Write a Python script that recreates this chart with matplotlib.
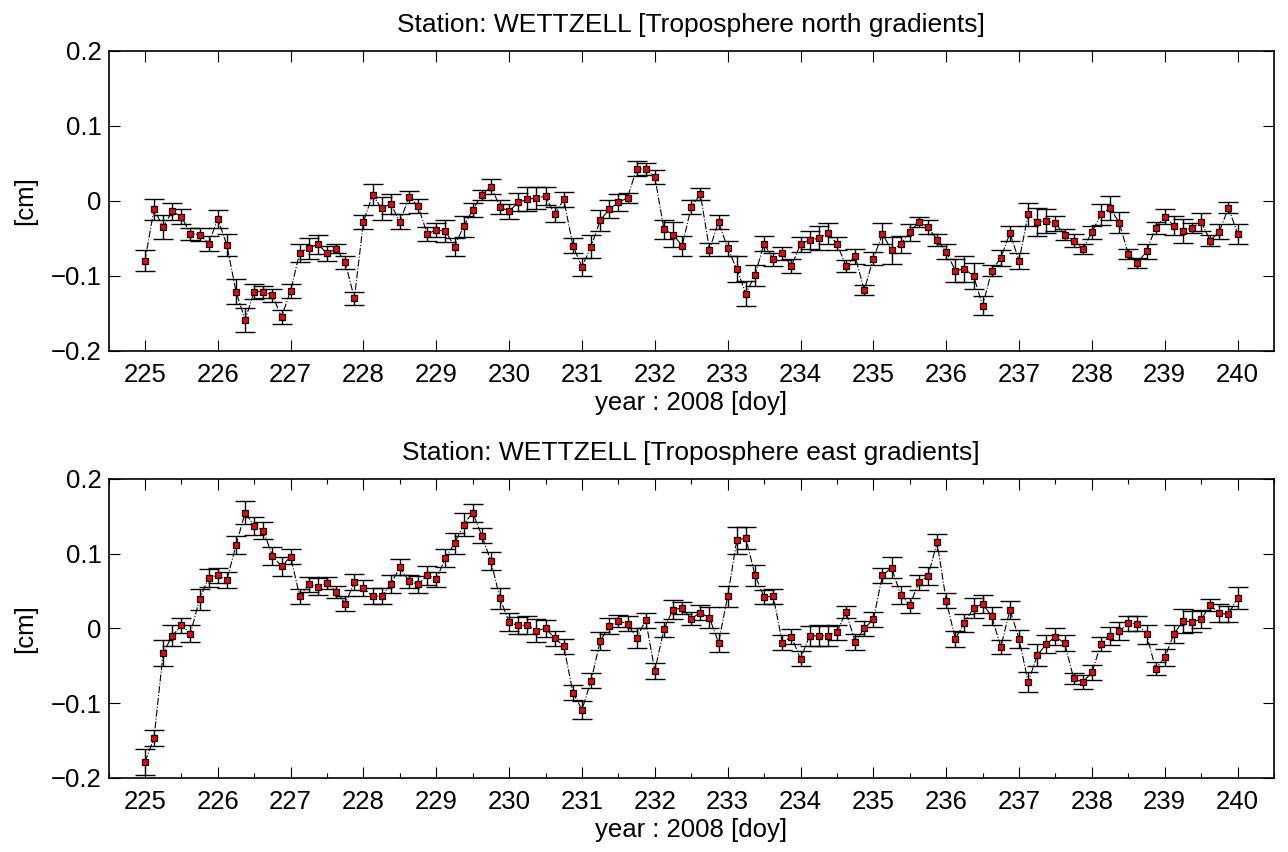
import numpy as np
import matplotlib
matplotlib.use("Agg")
import matplotlib.pyplot as plt
from matplotlib.ticker import FixedLocator, FixedFormatter, MultipleLocator

plt.rcParams['font.family'] = ['Liberation Sans', 'DejaVu Sans']
plt.rcParams['font.size'] = 18.5

# ---------------- data ----------------
doy_start = 225
doy_end = 240
samples_per_day = 8

north = [
    -0.080, -0.011, -0.035, -0.014, -0.021, -0.044, -0.045, -0.057,
    -0.024, -0.059, -0.121, -0.159, -0.121, -0.121, -0.126, -0.155,
    -0.120, -0.069, -0.063, -0.058, -0.070, -0.064, -0.082, -0.130,
    -0.028, 0.008, -0.010, -0.004, -0.028, 0.005, -0.007, -0.044,
    -0.039, -0.040, -0.061, -0.034, -0.012, 0.008, 0.019, -0.008,
    -0.014, -0.002, 0.002, 0.004, 0.006, -0.018, 0.002, -0.060,
    -0.088, -0.061, -0.026, -0.011, -0.002, 0.004, 0.043, 0.042,
    0.032, -0.038, -0.045, -0.060, -0.008, 0.009, -0.065, -0.028,
    -0.063, -0.091, -0.124, -0.099, -0.057, -0.078, -0.070, -0.087,
    -0.058, -0.052, -0.050, -0.043, -0.057, -0.087, -0.074, -0.119,
    -0.077, -0.044, -0.066, -0.058, -0.042, -0.028, -0.035, -0.052,
    -0.068, -0.093, -0.091, -0.100, -0.140, -0.093, -0.076, -0.043,
    -0.080, -0.018, -0.028, -0.027, -0.030, -0.045, -0.053, -0.064,
    -0.042, -0.018, -0.010, -0.029, -0.071, -0.083, -0.067, -0.036,
    -0.021, -0.033, -0.040, -0.036, -0.028, -0.053, -0.041, -0.009,
    -0.044,
]
north_err = [
    0.014, 0.014, 0.016, 0.011, 0.010, 0.008, 0.009, 0.010,
    0.012, 0.015, 0.017, 0.016, 0.010, 0.008, 0.009, 0.009,
    0.009, 0.012, 0.014, 0.013, 0.010, 0.006, 0.009, 0.009,
    0.009, 0.014, 0.015, 0.013, 0.010, 0.008, 0.009, 0.009,
    0.009, 0.015, 0.012, 0.014, 0.009, 0.007, 0.010, 0.009,
    0.010, 0.012, 0.016, 0.015, 0.012, 0.010, 0.010, 0.010,
    0.012, 0.015, 0.014, 0.012, 0.011, 0.007, 0.010, 0.008,
    0.009, 0.013, 0.017, 0.013, 0.009, 0.008, 0.009, 0.009,
    0.010, 0.017, 0.017, 0.014, 0.010, 0.009, 0.009, 0.009,
    0.010, 0.012, 0.016, 0.014, 0.009, 0.008, 0.010, 0.007,
    0.009, 0.014, 0.018, 0.011, 0.011, 0.007, 0.009, 0.008,
    0.010, 0.015, 0.017, 0.017, 0.013, 0.007, 0.011, 0.010,
    0.011, 0.015, 0.019, 0.016, 0.010, 0.007, 0.009, 0.007,
    0.009, 0.014, 0.016, 0.014, 0.007, 0.007, 0.010, 0.008,
    0.010, 0.013, 0.016, 0.007, 0.012, 0.007, 0.010, 0.007,
    0.013,
]

east = [
    -0.179, -0.147, -0.033, -0.010, 0.004, -0.007, 0.039, 0.068,
    0.071, 0.065, 0.111, 0.155, 0.137, 0.131, 0.097, 0.083,
    0.096, 0.043, 0.059, 0.056, 0.061, 0.049, 0.033, 0.062,
    0.054, 0.043, 0.043, 0.059, 0.082, 0.063, 0.059, 0.071,
    0.066, 0.094, 0.114, 0.139, 0.155, 0.124, 0.090, 0.040,
    0.008, 0.004, 0.004, -0.003, 0.000, -0.013, -0.024, -0.086,
    -0.109, -0.070, -0.017, 0.003, 0.010, 0.006, -0.013, 0.011,
    -0.057, -0.001, 0.025, 0.027, 0.013, 0.021, 0.014, -0.019,
    0.043, 0.118, 0.121, 0.071, 0.042, 0.043, -0.019, -0.011,
    -0.041, -0.010, -0.010, -0.010, -0.005, 0.022, -0.018, 0.000,
    0.012, 0.071, 0.081, 0.045, 0.031, 0.062, 0.070, 0.115,
    0.037, -0.014, 0.007, 0.027, 0.033, 0.016, -0.025, 0.025,
    -0.014, -0.072, -0.036, -0.021, -0.011, -0.020, -0.067, -0.072,
    -0.059, -0.021, -0.010, -0.004, 0.007, 0.006, -0.008, -0.054,
    -0.039, -0.008, 0.010, 0.009, 0.012, 0.031, 0.020, 0.019,
    0.041,
]
east_err = [
    0.017, 0.011, 0.017, 0.014, 0.010, 0.011, 0.014, 0.012,
    0.010, 0.011, 0.012, 0.015, 0.012, 0.011, 0.012, 0.013,
    0.010, 0.010, 0.010, 0.012, 0.008, 0.008, 0.010, 0.011,
    0.011, 0.011, 0.011, 0.012, 0.011, 0.009, 0.011, 0.013,
    0.010, 0.012, 0.014, 0.015, 0.012, 0.010, 0.012, 0.014,
    0.012, 0.011, 0.012, 0.015, 0.011, 0.010, 0.010, 0.010,
    0.012, 0.010, 0.012, 0.011, 0.008, 0.010, 0.013, 0.010,
    0.011, 0.010, 0.013, 0.008, 0.009, 0.010, 0.014, 0.013,
    0.014, 0.018, 0.015, 0.014, 0.010, 0.010, 0.010, 0.010,
    0.010, 0.013, 0.014, 0.013, 0.010, 0.008, 0.011, 0.010,
    0.010, 0.010, 0.014, 0.012, 0.010, 0.010, 0.012, 0.012,
    0.010, 0.011, 0.012, 0.013, 0.012, 0.012, 0.010, 0.012,
    0.012, 0.013, 0.015, 0.012, 0.011, 0.011, 0.007, 0.009,
    0.010, 0.009, 0.012, 0.012, 0.010, 0.010, 0.013, 0.009,
    0.011, 0.012, 0.016, 0.014, 0.012, 0.008, 0.012, 0.011,
    0.015,
]

x_ticks = list(range(225, 241))
y_ticks = [-0.2, -0.1, 0.0, 0.1, 0.2]
y_tick_labels = ['\u22120.2', '\u22120.1', '0', '0.1', '0.2']

titles = ['Station: WETTZELL [Troposphere north gradients]',
          'Station: WETTZELL [Troposphere east gradients]']
xlabel = 'year : 2008 [doy]'
ylabel = '[cm]'

doy = doy_start + np.arange(len(north)) / samples_per_day

# ---------------- figure ----------------
W, H = 1288, 852
fig = plt.figure(figsize=(W / 100, H / 100), dpi=100)

def px_axes(left, top, right, bottom):
    return fig.add_axes([left / W, 1 - bottom / H, (right - left) / W, (bottom - top) / H])

ax1 = px_axes(108.5, 51, 1274, 350.7)
ax2 = px_axes(108.5, 479, 1274, 777.7)

series = [(ax1, north, north_err, False), (ax2, east, east_err, True)]

for (ax, vals, errs, minor), title in zip(series, titles):
    ax.plot(doy, vals, linestyle='-.', color='k', linewidth=0.8, zorder=1)
    ax.errorbar(doy, vals, yerr=errs, fmt='none', ecolor='k', elinewidth=1.0,
                capsize=7.5, capthick=1.0, zorder=2)
    ax.plot(doy, vals, linestyle='none', marker='s', markersize=5,
            markerfacecolor='#ff0000', markeredgecolor='k', markeredgewidth=0.9, zorder=3)
    ax.set_xlim(224.5, 240.5)
    ax.set_ylim(-0.2, 0.2)
    ax.xaxis.set_major_locator(FixedLocator(x_ticks))
    ax.set_xticklabels([str(t) for t in x_ticks])
    ax.yaxis.set_major_locator(FixedLocator(y_ticks))
    ax.yaxis.set_major_formatter(FixedFormatter(y_tick_labels))
    if minor:
        ax.xaxis.set_minor_locator(MultipleLocator(0.5))
    ax.tick_params(axis='both', which='major', direction='in', length=8, width=0.8,
                   top=True, right=True, labelsize=18.5)
    ax.tick_params(axis='x', which='major', pad=9)
    ax.tick_params(axis='y', which='major', pad=5)
    ax.tick_params(axis='x', which='minor', direction='in', length=3.5, width=0.8,
                   top=True, bottom=True)
    for s in ax.spines.values():
        s.set_linewidth(1.2)
    ax.set_title(title, fontsize=19, pad=14)
    ax.set_xlabel(xlabel, fontsize=18.5, labelpad=3)
    ax.set_ylabel(ylabel, fontsize=18.5, labelpad=10)

fig.savefig('out.png', dpi=100)
